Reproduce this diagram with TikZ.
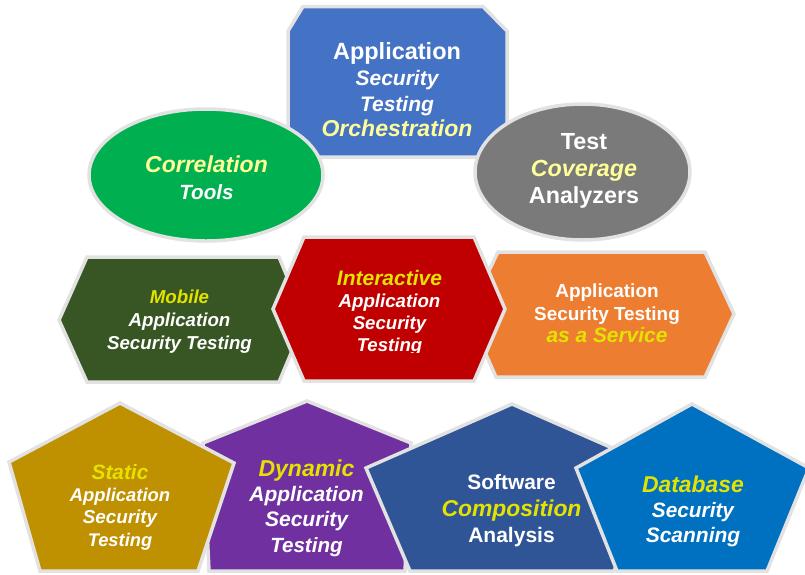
\documentclass[tikz,border=0pt]{standalone}
\usepackage{fontspec}
\setmainfont{Liberation Sans}
\definecolor{edgegray}{HTML}{E2E2E2}
\definecolor{orchblue}{HTML}{4472C4}
\definecolor{corrgreen}{HTML}{00B050}
\definecolor{covgray}{HTML}{7A7A7A}
\definecolor{mobgreen}{HTML}{375623}
\definecolor{iastred}{HTML}{C00000}
\definecolor{saasorange}{HTML}{ED7D31}
\definecolor{sastgold}{HTML}{BF9000}
\definecolor{dastpurple}{HTML}{7030A0}
\definecolor{scablue}{HTML}{2F5597}
\definecolor{dbblue}{HTML}{0070C0}
\definecolor{paleyel}{HTML}{FFFF99}
\definecolor{brightyel}{HTML}{E4E200}
\newcommand{\tsz}[1]{\fontsize{#1}{#1}\selectfont}

\begin{document}
\begin{tikzpicture}[x=1pt,y=-1pt,
  tile/.style={draw=edgegray,line width=3.5pt},
  lbl/.style={align=center,inner sep=0pt,text=white,font=\bfseries\fontsize{20}{#1}\selectfont}]
  \useasboundingbox (0,0) rectangle (805,574);
  % top row
  \filldraw[tile,fill=orchblue] (303,6.5) -- (483,6.5) -- (507,31) -- (507,133) -- (483,157) -- (303,157) -- (288,133) -- (288,31) -- cycle;
  \filldraw[tile,fill=corrgreen] (206,175) ellipse [x radius=117,y radius=66];
  \filldraw[tile,fill=covgray] (582.5,172) ellipse [x radius=107.5,y radius=68];
  % middle row
  \filldraw[tile,fill=mobgreen] (87,257) -- (279,257) -- (305,320) -- (279,382) -- (87,382) -- (59,320) -- cycle;
  \filldraw[tile,fill=saasorange] (498,252) -- (705,252) -- (734,314) -- (705,377) -- (496,377) -- (468,314) -- cycle;
  \filldraw[tile,fill=iastred] (304,237) -- (474,237) -- (505,309) -- (474,381) -- (304,381) -- (273,309) -- cycle;
  % bottom row
  \filldraw[tile,fill=dastpurple] (307,401) -- (411,443) -- (405,571) -- (209,571) -- (203,443) -- cycle;
  \filldraw[tile,fill=sastgold] (120,403) -- (234,463) -- (198,571) -- (40,571) -- (9,462) -- cycle;
  \filldraw[tile,fill=scablue] (512,404) -- (658,468) -- (614,571) -- (410,571) -- (366,468) -- cycle;
  \filldraw[tile,fill=dbblue] (692,404) -- (809,468) -- (767,571) -- (617,571) -- (576,468) -- cycle;

  \node[lbl=25.7] (orch) at (397,90)
    {{\tsz{23.5}Application}\\{\itshape\tsz{21}Security}\\{\itshape\tsz{21}Testing}\\{\itshape\tsz{23}\color{paleyel}Orchestration}};
  \node[lbl=27] (corr) at (206.5,178)
    {{\itshape\tsz{23}\color{paleyel}Correlation}\\{\itshape\tsz{20.6}Tools}};
  \node[lbl=27] (cover) at (584,171)
    {{\tsz{23.3}Test}\\{\itshape\tsz{23.3}\color{paleyel}Coverage}\\{\tsz{23.3}Analyzers}};
  \node[lbl=23] (mobile) at (179.5,322)
    {{\itshape\tsz{18.7}\color{brightyel}Mobile}\\{\itshape\tsz{18.7}Application}\\{\itshape\tsz{18.7}Security Testing}};
  \begin{scope}
    \clip (260,230) rectangle (520,352.5);
    \node[lbl=22] (iast) at (389.5,312.5)
      {{\itshape\tsz{21}\color{brightyel}Interactive}\\{\itshape\tsz{18.7}Application}\\{\itshape\tsz{18.6}Security}\\{\itshape\tsz{18.6}Testing}};
  \end{scope}
  \node[lbl=22.5] (astaas) at (607,313.7)
    {{\tsz{19}Application}\\{\tsz{18.9}Security Testing}\\{\itshape\tsz{20.9}\color{brightyel}as a Service}};
  \node[lbl=22.3] (sast) at (120,507)
    {{\itshape\tsz{20.8}\color{brightyel}Static}\\{\itshape\tsz{18.4}Application}\\{\itshape\tsz{18.8}Security}\\{\itshape\tsz{18.3}Testing}};
  \node[lbl=25.3] (dast) at (306.5,508)
    {{\itshape\tsz{23}\color{brightyel}Dynamic}\\{\itshape\tsz{21}Application}\\{\itshape\tsz{21}Security}\\{\itshape\tsz{20.6}Testing}};
  \node[lbl=26.5] (sca) at (511.5,511)
    {{\tsz{20.9}Software}\\{\itshape\tsz{22.9}\color{brightyel}Composition}\\{\tsz{21}Analysis}};
  \node[lbl=25] (dbss) at (693,511)
    {{\itshape\tsz{22.9}\color{brightyel}Database}\\{\itshape\tsz{20.8}Security}\\{\itshape\tsz{21}Scanning}};
\end{tikzpicture}
\end{document}
